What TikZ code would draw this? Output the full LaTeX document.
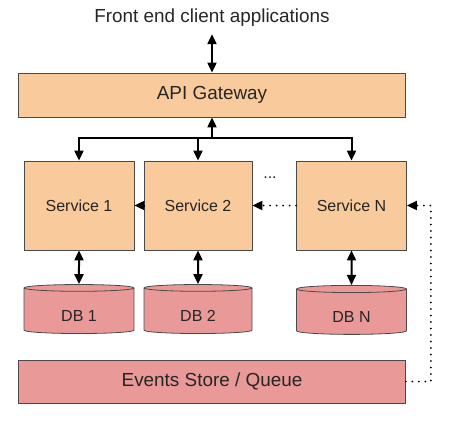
\documentclass[tikz,border=0pt]{standalone}
\usepackage{fontspec}
\setmainfont{Liberation Sans}
\usetikzlibrary{arrows.meta,shapes.geometric}
\definecolor{peach}{HTML}{F9CB9C}
\definecolor{rose}{HTML}{EA9999}
\definecolor{edge}{HTML}{4A4A4A}
\definecolor{ink}{HTML}{262626}
\begin{document}
\begin{tikzpicture}[x=1pt,y=-1pt,>={Triangle[length=10pt,width=9pt]}]

% size of each service box
\def\sw{110pt}
\def\sh{89pt}
% node style definition
\tikzstyle{block} = [
	draw=edge, fill=peach, rectangle, line width=0.8pt, text=ink,
	minimum width=\sw, minimum height=\sh, font=\fontsize{16}{19}\selectfont ];
\tikzstyle{wide} = [block, minimum width=387pt, minimum height=44pt,
	font=\fontsize{18.9}{22}\selectfont];
\tikzstyle{db} = [
	draw=edge, fill=rose, cylinder, shape border rotate=90, aspect=0.16,
	line width=0.8pt, text=ink, text height=20pt, text depth=0pt,
	minimum width=\sw, minimum height=49pt, font=\fontsize{16}{19}\selectfont ];
\tikzstyle{link} = [line width=2pt];
\tikzstyle{dots} = [line width=2pt, dash pattern=on 0pt off 6.5pt, line cap=round];

\useasboundingbox (0,0) rectangle (456,426);

\node[text=ink, font=\fontsize{18.9}{22}\selectfont, outer sep=4pt] (front) at (212,18) {Front end client applications};
\node[wide] (gw) at (212,95) {API Gateway};

\node[block] (s1) at (79,205.5) {Service 1};
\node[block, minimum width=108pt] (s2) at (198,205.5) {Service 2};
\node[block] (sN) at (351.5,205.5) {Service N};
\node[text=ink, font=\fontsize{16}{19}\selectfont] (more) at (270,178) {...};

\node[db] (d1) at (79,311.5) {DB 1};
\node[db, minimum width=108pt] (d2) at (198,311.5) {DB 2};
\node[db] (dN) at (351.5,312.5) {DB N};

\node[wide, fill=rose, minimum height=43pt] (ev) at (212,381.5) {Events Store / Queue};

\draw[<->, link] (front) -- (gw);

\coordinate (hub) at (212,138);
\draw[->, link] (hub) -- (gw);
\draw[->, link] (hub) -| (s1);
\draw[->, link] (hub) -| (s2);
\draw[->, link] (hub) -| (sN);

\draw[->, link] (s2) -- (s1);
\draw[->, dots] (sN) -- (s2);

\draw[<->, link] (s1) -- (d1);
\draw[<->, link] (s2) -- (d2);
\draw[<->, link] (sN) -- (dN);

\draw[->, dots] (ev.east) -- ++(25,0) |- (sN.east);

\end{tikzpicture}
\end{document}
